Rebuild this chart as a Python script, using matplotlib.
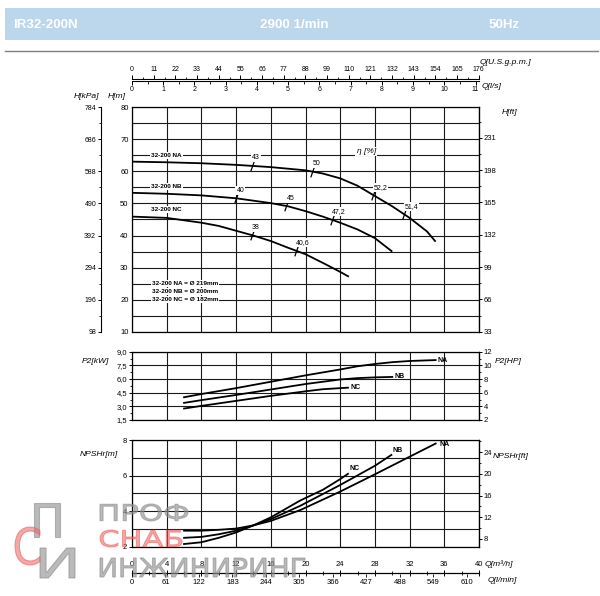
import numpy as np
import matplotlib.pyplot as plt
from matplotlib import font_manager
from matplotlib.font_manager import FontProperties
from matplotlib.lines import Line2D
from matplotlib.patches import Rectangle, PathPatch
from matplotlib.path import Path
from matplotlib.textpath import TextPath
from matplotlib.transforms import Affine2D
from matplotlib.ticker import MultipleLocator, FuncFormatter

W, H = 600, 596

title_left = 'IR32-200N'
title_mid = '2900 1/min'
title_right = '50Hz'

# head H[m] against Q[m3/h]
head_na_q = [0, 4, 8, 12, 16, 20, 22, 24, 26, 28, 30, 32, 34, 35]
head_na_h = [63.0, 62.8, 62.5, 62.0, 61.3, 60.3, 59.3, 57.8, 55.5, 52.3, 49.1, 45.5, 41.3, 38.1]
head_nb_q = [0, 4, 8, 12, 16, 18, 20, 22, 24, 26, 28, 30]
head_nb_h = [53.3, 53.0, 52.5, 51.6, 50.1, 49.1, 47.6, 45.9, 44.0, 41.9, 39.2, 35.0]
head_nc_q = [0, 4, 8, 10, 12, 14, 16, 18, 20, 22, 24, 25]
head_nc_h = [45.9, 45.5, 44.0, 43.0, 41.5, 40.0, 38.3, 36.2, 34.2, 31.5, 28.7, 27.2]

# efficiency marks (eta %) along the head curves
eff_na_q = [13.8, 20.8, 27.8, 31.4]
eff_na = ['43', '50', '52,2', '51,4']
eff_nb_q = [12.0, 17.8, 23.0]
eff_nb = ['40', '45', '47,2']
eff_nc_q = [13.8, 18.9]
eff_nc = ['38', '40,6']

curve_names = ['32-200 NA', '32-200 NB', '32-200 NC']
impeller_d = ['219', '200', '182']
short_names = ['NA', 'NB', 'NC']

# power P2[kW]
p2_na_q = [6, 8, 12, 16, 20, 24, 26, 28, 30, 32, 35]
p2_na = [4.0, 4.35, 5.0, 5.7, 6.4, 7.05, 7.4, 7.65, 7.85, 7.98, 8.08]
p2_nb_q = [6, 8, 12, 16, 20, 24, 26, 28, 30]
p2_nb = [3.38, 3.68, 4.25, 4.85, 5.45, 5.95, 6.1, 6.18, 6.23]
p2_nc_q = [6, 8, 12, 16, 20, 22, 24.9]
p2_nc = [2.76, 3.05, 3.6, 4.15, 4.65, 4.88, 5.05]

# NPSHr[m]
npsh_na_q = [6, 8, 10, 12, 14, 16, 19.4, 24, 28, 32, 35]
npsh_na = [2.9, 2.9, 2.95, 3.02, 3.2, 3.45, 4.06, 5.1, 6.07, 7.06, 7.8]
npsh_nb_q = [6, 8, 10, 12, 14, 16, 19.4, 24, 28, 29.9]
npsh_nb = [2.5, 2.55, 2.7, 2.9, 3.2, 3.55, 4.3, 5.47, 6.55, 7.16]
npsh_nc_q = [6, 8, 10, 12, 14, 16, 19.4, 22, 24, 24.9]
npsh_nc = [2.15, 2.25, 2.5, 2.8, 3.2, 3.65, 4.6, 5.2, 5.8, 6.1]

# scale labels
kpa_ticks = [98, 196, 294, 392, 490, 588, 686, 784]
ft_ticks = [33, 66, 99, 132, 165, 198, 231]
hp_ticks = [2, 4, 6, 8, 10, 12]
npsh_ft_ticks = [8, 12, 16, 20, 24]
gpm_ticks = [0, 11, 22, 33, 44, 55, 66, 77, 88, 99, 110, 121, 132, 143, 154, 165, 176]
ls_ticks = [0, 1, 2, 3, 4, 5, 6, 7, 8, 9, 10, 11]
lmin_ticks = [0, 61, 122, 183, 244, 305, 366, 427, 488, 549, 610]


def has_font(name):
    try:
        font_manager.findfont(name, fallback_to_default=False)
        return True
    except ValueError:
        return False


NARROW = 'Liberation Sans Narrow' if has_font('Liberation Sans Narrow') else 'Liberation Sans'
plt.rcParams['font.family'] = ['Liberation Sans', 'DejaVu Sans']

GRID = '#1a1a1a'
fig = plt.figure(figsize=(6, 5.96), dpi=100)


def px_axes(x0, y0, x1, y1):
    # pixel box, y measured from the top of the picture
    return fig.add_axes([x0 / W, 1 - y1 / H, (x1 - x0) / W, (y1 - y0) / H])


def ptext(x, y, s, **kw):
    fig.text(x / W, 1 - y / H, s, **kw)


def comma(v, pos):
    return f'{v:.1f}'.replace('.', ',')


def frame(ax):
    for s in ax.spines.values():
        s.set_linewidth(0.9)
    ax.xaxis.set_major_locator(MultipleLocator(4))
    ax.tick_params(axis='x', which='both', length=0, labelbottom=False)
    ax.grid(which='both', color=GRID, lw=0.8)
    ax.set_axisbelow(True)


def side_scale(sec, ticks, minor, size=5.5):
    sec.set_ticks(ticks)
    sec.yaxis.set_minor_locator(MultipleLocator(minor))
    sec.tick_params(which='major', length=2.5, width=0.7, pad=1, labelsize=size)
    sec.tick_params(which='minor', length=1.5, width=0.6)


slash = Path([(-0.35, -1.0), (0.35, 1.0)], [Path.MOVETO, Path.LINETO])
white = dict(boxstyle='square,pad=0.15', fc='white', ec='none')

# ---------------- header ----------------
fig.add_artist(Rectangle((5 / W, 1 - 40 / H), 595 / W, 31.5 / H,
                         transform=fig.transFigure, color='#bcd6ec', lw=0))
fig.add_artist(Line2D([5 / W, 598 / W], [1 - 51 / H] * 2, transform=fig.transFigure,
                      color='#7f7f7f', lw=1))
hdr = dict(color='white', fontsize=9.6, weight='bold', family=[NARROW, 'DejaVu Sans'], va='center')
ptext(13, 25, title_left, ha='left', **hdr)
ptext(294, 25, title_mid, ha='center', **hdr)
ptext(504, 25, title_right, ha='center', **hdr)

# ---------------- head chart ----------------
ax = px_axes(132, 107, 479, 332)
ax.set_xlim(0, 40)
ax.set_ylim(10, 80)
frame(ax)
ax.yaxis.set_major_locator(MultipleLocator(10))
ax.yaxis.set_minor_locator(MultipleLocator(5))
ax.tick_params(axis='y', which='both', length=0, pad=2.5, labelsize=5.5)

heads = [(head_na_q, head_na_h, eff_na_q, eff_na),
         (head_nb_q, head_nb_h, eff_nb_q, eff_nb),
         (head_nc_q, head_nc_h, eff_nc_q, eff_nc)]
for q, h, eq, el in heads:
    ax.plot(q, h, color='k', lw=1.3, solid_capstyle='butt')
    for qq, lab in zip(eq, el):
        hh = np.interp(qq, q, h)
        ax.plot(qq, hh, marker=slash, ms=7, color='k', mew=0.9)
        ax.annotate(lab, (qq, hh), xytext=(0.3, 3.2), textcoords='offset points',
                    fontsize=5, ha='left', va='bottom', bbox=white)

name_kw = dict(fontsize=4.6, weight='bold', family=[NARROW, 'DejaVu Sans'],
               ha='left', va='center', bbox=white)
for name, y in zip(curve_names, [65.0, 55.3, 48.0]):
    ax.text(2.2, y, name, **name_kw)
for name, d, y in zip(curve_names, impeller_d, [25.2, 22.6, 20.0]):
    ax.text(2.3, y, f'{name} = Ø {d}mm', **name_kw)
ax.text(27.0, 66.2, 'η [%]', fontsize=6, style='italic', ha='center', va='center', bbox=white)

sec_ft = ax.secondary_yaxis('right', functions=(lambda m: m * 3.281, lambda f: f / 3.281))
side_scale(sec_ft, ft_ticks, 16.5)

sec_kpa = ax.secondary_yaxis(-31 / 347, functions=(lambda m: m * 9.8, lambda k: k / 9.8))
side_scale(sec_kpa, kpa_ticks, 49, size=5)
sec_kpa.spines['left'].set_linewidth(0.8)

# ---------------- power chart ----------------
ap = px_axes(132, 351.7, 479, 420)
ap.set_xlim(0, 40)
ap.set_ylim(1.5, 9.0)
frame(ap)
ap.yaxis.set_major_locator(MultipleLocator(1.5))
ap.yaxis.set_major_formatter(FuncFormatter(comma))
ap.yaxis.set_minor_locator(MultipleLocator(0.75))
ap.grid(which='minor', axis='y', visible=False)
ap.tick_params(axis='y', which='major', length=2.5, width=0.7, pad=1, labelsize=5.5)
ap.tick_params(axis='y', which='minor', length=1.5, width=0.6)

for q, p, n in [(p2_na_q, p2_na, 'NA'), (p2_nb_q, p2_nb, 'NB'), (p2_nc_q, p2_nc, 'NC')]:
    ap.plot(q, p, color='k', lw=1.3)
    ap.annotate(n, (q[-1], p[-1]), xytext=(1.5, 0), textcoords='offset points',
                fontsize=5, weight='bold', ha='left', va='center')

# the HP scale of the sheet runs 2..12 against 1,5..9,0 kW
sec_hp = ap.secondary_yaxis('right', functions=(lambda k: (k - 1.5) * 4 / 3 + 2,
                                                  lambda hp: (hp - 2) * 0.75 + 1.5))
side_scale(sec_hp, hp_ticks, 1)

# ---------------- NPSH chart ----------------
an = px_axes(132, 440, 479, 546.7)
an.set_xlim(0, 40)
an.set_ylim(2, 8)
frame(an)
an.yaxis.set_major_locator(MultipleLocator(2))
an.yaxis.set_minor_locator(MultipleLocator(1))
an.tick_params(axis='y', which='major', length=2.5, width=0.7, pad=1, labelsize=5.5)
an.tick_params(axis='y', which='minor', length=0)

npsh_offsets = [(3, -1), (1, 3.5), (1, 4)]
for (q, v, n), off in zip([(npsh_na_q, npsh_na, 'NA'), (npsh_nb_q, npsh_nb, 'NB'),
                           (npsh_nc_q, npsh_nc, 'NC')], npsh_offsets):
    an.plot(q, v, color='k', lw=1.3)
    an.annotate(n, (q[-1], v[-1]), xytext=off, textcoords='offset points',
                fontsize=5, weight='bold', ha='left', va='center')

sec_nf = an.secondary_yaxis('right', functions=(lambda m: m * 3.281, lambda f: f / 3.281))
side_scale(sec_nf, npsh_ft_ticks, 2)

# ---------------- top flow scales ----------------
at = px_axes(132, 79.5, 479, 80.5)
at.set_xlim(0, 40)
at.set_xticks([])
at.set_yticks([])
for s in at.spines.values():
    s.set_visible(False)
at.patch.set_alpha(0)
sec_g = at.secondary_xaxis('top', functions=(lambda q: q * 4.403, lambda g: g / 4.403))
sec_g.set_ticks(gpm_ticks)
sec_g.xaxis.set_minor_locator(MultipleLocator(5.5))
sec_g.tick_params(which='major', length=3, width=0.7, pad=1.5, labelsize=5)
sec_g.tick_params(which='minor', length=1.8, width=0.6)
sec_s = at.secondary_xaxis('bottom', functions=(lambda q: q / 3.6, lambda s: s * 3.6))
sec_s.set_ticks(ls_ticks)
sec_s.xaxis.set_minor_locator(MultipleLocator(0.5))
sec_s.tick_params(which='major', length=3, width=0.7, pad=1, labelsize=5)
sec_s.tick_params(which='minor', length=1.8, width=0.6)

# ---------------- bottom flow scales ----------------
ab = px_axes(132, 572.5, 479, 573.5)
ab.set_xlim(0, 40)
ab.set_yticks([])
for k in ['left', 'right', 'bottom']:
    ab.spines[k].set_visible(False)
ab.spines['top'].set_linewidth(0.9)
ab.patch.set_alpha(0)
ab.xaxis.set_major_locator(MultipleLocator(4))
ab.xaxis.set_minor_locator(MultipleLocator(2))
ab.tick_params(axis='x', which='both', top=True, bottom=False, labeltop=True,
               labelbottom=False, direction='inout')
ab.tick_params(axis='x', which='major', length=4, width=0.7, pad=1, labelsize=5.5)
ab.tick_params(axis='x', which='minor', length=2.2, width=0.6)
sec_l = ab.secondary_xaxis('bottom', functions=(lambda q: q * 15.8, lambda l: l / 15.8))
sec_l.set_ticks(lmin_ticks)
sec_l.spines['bottom'].set_visible(False)
sec_l.tick_params(which='major', length=2.2, width=0.6, pad=2, labelsize=5.5)

# ---------------- axis titles ----------------
lab = dict(fontsize=6.1, style='italic', va='center')
ptext(86.7, 96.7, 'H[kPa]', ha='center', **lab)
ptext(117, 96.7, 'H[m]', ha='center', **lab)
ptext(480, 62.3, 'Q[U.S.g.p.m.]', ha='left', **lab)
ptext(482, 86.5, 'Q[l/s]', ha='left', **lab)
ptext(501.5, 113, 'H[ft]', ha='left', **lab)
ptext(109, 361.5, 'P2[kW]', ha='right', **lab)
ptext(495, 361.5, 'P2[HP]', ha='left', **lab)
ptext(118, 455, 'NPSHr[m]', ha='right', **lab)
ptext(493, 456.7, 'NPSHr[ft]', ha='left', **lab)
ptext(485, 564.5, 'Q[m³/h]', ha='left', **lab)
ptext(488, 581, 'Q[l/min]', ha='left', **lab)


# ---------------- watermark ----------------
def stamp(s, x0, y0, x1, y1, color, alpha):
    tp = TextPath((0, 0), s, size=10, prop=FontProperties(family='DejaVu Sans'))
    ext = tp.get_extents()
    tr = (Affine2D().translate(-ext.x0, -ext.y0)
          .scale((x1 - x0) / ext.width, (y1 - y0) / ext.height)
          .translate(x0, H - y1).scale(1 / W, 1 / H)) + fig.transFigure
    fig.add_artist(PathPatch(tp, transform=tr, fc=color, ec=color, lw=0.8,
                             alpha=alpha, zorder=5))


stamp('ПРОФ', 100, 504, 188, 521, '#8c8c8c', 0.6)
stamp('СНАБ', 100, 530, 182, 547, '#ec5f5f', 0.55)
stamp('ИНЖИНИРИНГ', 100, 558, 305, 577, '#8c8c8c', 0.6)
stamp('П', 34, 503, 60, 537, '#8c8c8c', 0.6)
stamp('С', 15, 527, 40, 565, '#ec5f5f', 0.55)
stamp('И', 40, 548, 75, 578, '#8c8c8c', 0.6)

fig.savefig('out.png', dpi=100, facecolor='white')
